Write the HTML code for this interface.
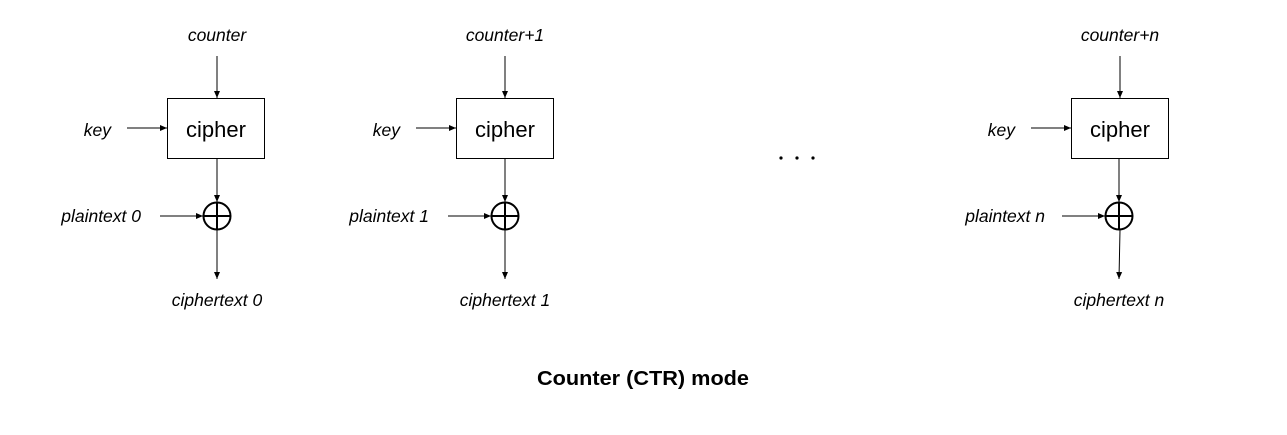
<!DOCTYPE html>
<html><head><meta charset="utf-8"><style>
html,body{margin:0;padding:0;background:#fff;}
svg{display:block;}
text{font-family:"Liberation Sans",sans-serif;fill:#000;}
.i{font-style:italic;font-size:17.5px;}
.c{font-size:22px;}
</style></head><body>
<svg width="1287" height="435" viewBox="0 0 1287 435" xmlns="http://www.w3.org/2000/svg">
<defs><marker id="a" markerWidth="8" markerHeight="8" refX="7" refY="4" orient="auto" markerUnits="userSpaceOnUse"><path d="M0,1 L7,4 L0,7 z" fill="#000"/></marker></defs>
<g stroke="#000" stroke-width="1" fill="none">
<rect x="167.5" y="98.5" width="97" height="60"/>
<line x1="217" y1="56" x2="217" y2="98" marker-end="url(#a)"/>
<line x1="127" y1="128" x2="167" y2="128" marker-end="url(#a)"/>
<line x1="217" y1="159" x2="217" y2="202" marker-end="url(#a)"/>
<line x1="160" y1="216" x2="203" y2="216" marker-end="url(#a)"/>
<line x1="217" y1="230" x2="217" y2="279" marker-end="url(#a)"/>
<rect x="456.5" y="98.5" width="97" height="60"/>
<line x1="505" y1="56" x2="505" y2="98" marker-end="url(#a)"/>
<line x1="416" y1="128" x2="456" y2="128" marker-end="url(#a)"/>
<line x1="505" y1="159" x2="505" y2="202" marker-end="url(#a)"/>
<line x1="448" y1="216" x2="491" y2="216" marker-end="url(#a)"/>
<line x1="505" y1="230" x2="505" y2="279" marker-end="url(#a)"/>
<rect x="1071.5" y="98.5" width="97" height="60"/>
<line x1="1120" y1="56" x2="1120" y2="98" marker-end="url(#a)"/>
<line x1="1031" y1="128" x2="1071" y2="128" marker-end="url(#a)"/>
<line x1="1119" y1="159" x2="1119" y2="202" marker-end="url(#a)"/>
<line x1="1062" y1="216" x2="1105" y2="216" marker-end="url(#a)"/>
<line x1="1120" y1="230" x2="1119" y2="279" marker-end="url(#a)"/>
</g>
<g stroke="#000" stroke-width="2" fill="none">
<circle cx="217" cy="216" r="13.5"/><line x1="203.5" y1="216" x2="230.5" y2="216"/><line x1="217" y1="202.5" x2="217" y2="229.5"/>
<circle cx="505" cy="216" r="13.5"/><line x1="491.5" y1="216" x2="518.5" y2="216"/><line x1="505" y1="202.5" x2="505" y2="229.5"/>
<circle cx="1119" cy="216" r="13.5"/><line x1="1105.5" y1="216" x2="1132.5" y2="216"/><line x1="1119" y1="202.5" x2="1119" y2="229.5"/>
</g>
<g fill="#000"><circle cx="781" cy="158" r="1.6"/><circle cx="797" cy="158" r="1.6"/><circle cx="813" cy="158" r="1.6"/></g>
<text class="i" x="217" y="41" text-anchor="middle">counter</text>
<text class="i" x="505" y="41" text-anchor="middle">counter+1</text>
<text class="i" x="1120" y="41" text-anchor="middle">counter+n</text>
<text class="i" x="111" y="136" text-anchor="end">key</text>
<text class="i" x="400" y="136" text-anchor="end">key</text>
<text class="i" x="1015" y="136" text-anchor="end">key</text>
<text class="c" x="216" y="137" text-anchor="middle">cipher</text>
<text class="c" x="505" y="137" text-anchor="middle">cipher</text>
<text class="c" x="1120" y="137" text-anchor="middle">cipher</text>
<text class="i" x="141" y="222" text-anchor="end">plaintext 0</text>
<text class="i" x="429" y="222" text-anchor="end">plaintext 1</text>
<text class="i" x="1045" y="222" text-anchor="end">plaintext n</text>
<text class="i" x="217" y="306" text-anchor="middle">ciphertext 0</text>
<text class="i" x="505" y="306" text-anchor="middle">ciphertext 1</text>
<text class="i" x="1119" y="306" text-anchor="middle">ciphertext n</text>
<text x="537" y="385" font-size="20" font-weight="bold" textLength="212" lengthAdjust="spacingAndGlyphs">Counter (CTR) mode</text>
</svg>
</body></html>
